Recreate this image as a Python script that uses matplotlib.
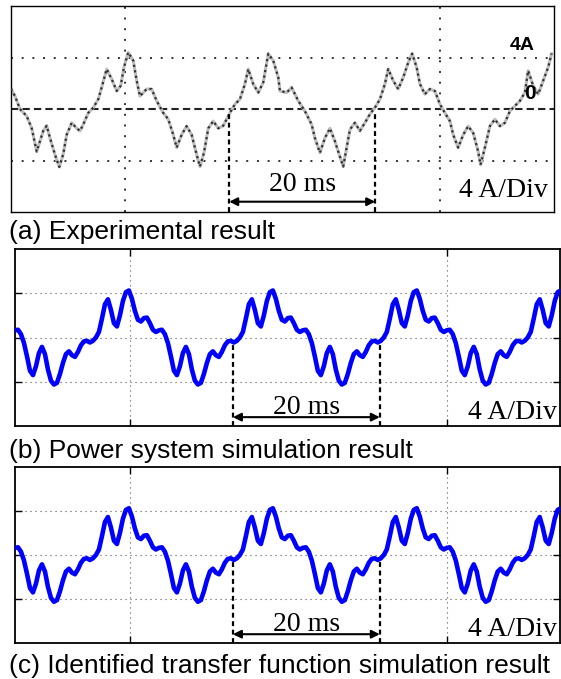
import numpy as np
import matplotlib.pyplot as plt

# ------------------------------
# Data (currents in A, time in ms)
# ------------------------------
# (a) oscilloscope trace, read point by point
exp_t = [0.0, 0.55, 1.23, 2.15, 2.84, 3.52, 3.97, 4.42, 4.89, 5.34, 6.03, 6.62,
         7.16, 7.63, 8.32, 9.0, 9.45, 9.9, 10.59, 11.27, 11.96, 12.42, 13.11,
         13.79, 14.48, 15.03, 15.48, 16.07, 16.75, 17.22, 17.67, 18.59, 19.27,
         19.96, 20.86, 21.55, 22.23, 22.7, 23.38, 24.07, 24.75, 25.44, 25.89,
         26.44, 27.03, 27.71, 28.4, 29.08, 30.0, 30.68, 31.37, 32.05, 32.51,
         33.19, 33.88, 34.56, 35.25, 35.93, 36.62, 36.85, 37.77, 38.45, 39.36,
         40.27, 41.19, 41.64, 42.33, 43.01, 43.7, 44.38, 45.07, 45.52, 45.99,
         46.44, 47.12, 47.81, 48.49, 49.18, 49.86, 50.55, 51.23, 51.68, 52.37,
         53.05, 53.74, 54.42, 54.97, 55.58, 56.03, 56.71, 57.4, 58.08, 58.77,
         59.45, 60.14, 60.59, 61.27, 61.96, 62.64, 63.33, 64.01, 64.34, 64.93,
         65.62, 66.3, 66.99, 67.67, 68.36, 69.04, 69.73, 70.41, 70.86, 71.55,
         72.23, 72.92, 73.6, 74.07]
exp_i = [1.57, 1.0, 0.0, -0.55, -1.5, -3.3, -2.5, -1.7, -1.3, -2.25, -3.55, -4.5,
         -3.5, -2.0, -1.07, -1.5, -1.7, -1.2, -0.3, 0.1, 0.76, 1.67, 3.1,
         2.33, 1.4, 1.8, 3.24, 4.4, 3.76, 2.2, 1.0, 1.55, 1.55,
         0.63, -0.3, -0.8, -2.0, -3.0, -2.0, -1.33, -2.0, -3.55, -4.47,
         -3.4, -1.5, -0.94, -1.5, -1.3, -0.3, 0.37, 0.76, 1.94, 3.1,
         1.94, 1.28, 2.06, 4.3, 3.76, 2.45, 1.4, 1.28, 1.67, 0.63,
         -0.16, -1.2, -2.25, -3.4, -2.25, -1.5, -2.5, -3.7, -4.47, -3.0,
         -1.6, -1.07, -1.7, -1.07, -0.4, 0.1, 0.76, 1.94, 3.1, 2.2,
         1.55, 2.45, 3.6, 4.3, 3.24, 1.94, 1.15, 1.55, 1.4, 0.37,
         -0.3, -0.94, -2.0, -3.0, -2.0, -1.33, -1.86, -3.3, -4.33, -3.0,
         -1.33, -0.8, -1.33, -1.07, -0.16, 0.24, 0.63, 1.28, 2.98, 1.8,
         1.15, 2.2, 3.24, 4.3]

# (b) one 20 ms period of the simulated current, starting 5 ms before the peak
period_ms = 20.0
sim_period = [-0.3, 0.0, 0.5, 1.7, 3.0, 3.45, 2.5, 1.3, 1.0, 2.0, 3.3, 4.1,
              4.25, 3.5, 2.4, 1.6, 1.45, 1.75, 1.8, 1.3, 0.7, 0.5, 0.65, 0.7,
              0.3, -0.5, -1.7, -3.0, -3.4, -2.6, -1.4, -0.85, -1.5, -2.9, -3.9, -4.25,
              -4.1, -3.3, -2.3, -1.5, -1.25, -1.6, -1.75, -1.3, -0.7, -0.35, -0.3, -0.45]
sim_start_ms = -9.1
sim_periods = 5
# (c) identified transfer function gives the same waveform
tf_period = list(sim_period)

# axis layout per panel: x-limit, vertical grid positions, 20 ms markers
exp_xmax = 74.4
exp_vgrid = [15.6, 58.8]
exp_marks = [29.9, 49.9]
sim_xmax = 75.8
sim_vgrid = [16.0, 60.1]
sim_marks = [30.35, 50.76]

captions = ['(a) Experimental result',
            '(b) Power system simulation result',
            '(c) Identified transfer function simulation result']

plt.rcParams['font.family'] = 'Liberation Sans'
SERIF = 'Liberation Serif'

fig = plt.figure(figsize=(5.61, 6.79), dpi=100)
W, H = 561.0, 679.0


def add_axes_px(left, top, right, bottom):
    return fig.add_axes([left / W, 1 - bottom / H, (right - left) / W, (bottom - top) / H])


def draw_marker(ax, marks, top_y, text_y, div_x, div_y):
    for m in marks:
        ax.plot([m, m], [-8, top_y], color='k', lw=1.6, ls=(0, (2.2, 1.6)), zorder=4)
    ax.annotate('', xy=(marks[0], -7.2), xytext=(marks[1], -7.2),
                arrowprops=dict(arrowstyle='<|-|>', color='k', lw=1.5,
                                mutation_scale=12, shrinkA=0, shrinkB=0), zorder=4)
    ax.text(np.mean(marks), text_y, '20 ms', family=SERIF, fontsize=20,
            ha='center', va='center')
    ax.text(div_x, div_y, '4 A/Div', family=SERIF, fontsize=20, ha='right', va='center')


# ------------------------------
# (a) experimental (oscilloscope look)
# ------------------------------
ax = add_axes_px(11, 6, 554, 212)
ax.set_xlim(0, exp_xmax)
ax.set_ylim(-8, 8)
for g in exp_vgrid:
    ax.axvline(g, color='#333333', lw=1.4, ls=(0, (1, 4.5)), zorder=1)
for g in (-4, 4):
    ax.axhline(g, color='#333333', lw=1.4, ls=(0, (1, 4.5)), zorder=1)
ax.axhline(0, color='#222222', lw=1.5, ls=(0, (3.5, 2)), zorder=1)
ax.plot(exp_t, exp_i, color='#bdbdbd', lw=2.2, zorder=2)
ax.plot(exp_t, exp_i, color='#303030', lw=1.6, ls=(0, (1, 1.5)), zorder=3)
ax.text(70.0, 4.95, '4A', fontsize=14, fontweight='bold', ha='center', va='center')
ax.text(71.1, 1.2, '0', fontsize=15, fontweight='bold', ha='center', va='center')
draw_marker(ax, exp_marks, -0.4, -5.9, 73.6, -6.3)
ax.set_xticks([])
ax.set_yticks([])
for s in ax.spines.values():
    s.set_linewidth(1.0)

# ------------------------------
# (b), (c) simulations
# ------------------------------
for top, bottom, period in [(249, 426, sim_period), (467, 643, tf_period)]:
    ax = add_axes_px(14.5, top, 560, bottom)
    n = len(period)
    t = sim_start_ms + np.arange(n * sim_periods + 1) * period_ms / n
    y = np.tile(period, sim_periods + 1)[:len(t)]
    ax.plot(t, y, color='#0000ff', lw=3.3, solid_joinstyle='round',
            solid_capstyle='round', zorder=3)
    ax.set_xlim(0, sim_xmax)
    ax.set_ylim(-8, 8)
    ax.set_xticks(sim_vgrid)
    ax.set_yticks([-4, 0, 4])
    ax.set_xticklabels([])
    ax.set_yticklabels([])
    ax.tick_params(direction='in', length=5, width=1.0, top=True, right=True)
    ax.grid(True, color='#555555', lw=0.8, ls=(0, (1, 3.5)))
    for s in ax.spines.values():
        s.set_linewidth(1.3)
    draw_marker(ax, sim_marks, -0.4, -6.3, 75.3, -6.8)

for cap, yc in zip(captions, [232, 451, 666]):
    fig.text(9 / W, 1 - yc / H, cap, fontsize=19, ha='left', va='center')

fig.savefig('out.png', dpi=100)
